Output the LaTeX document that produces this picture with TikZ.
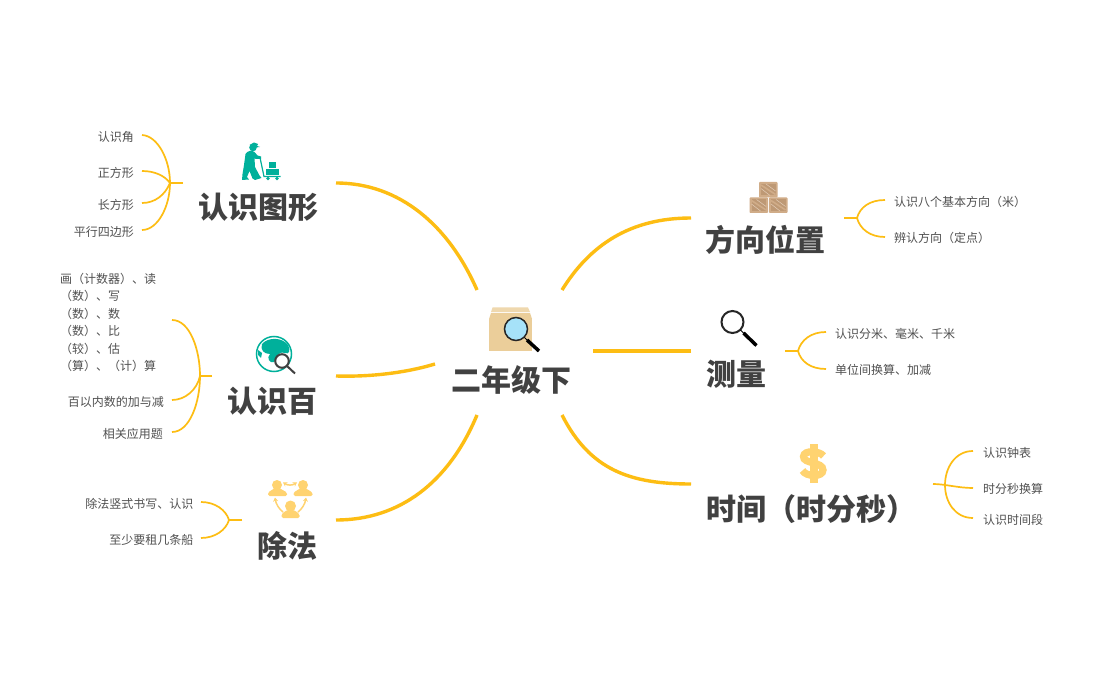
\documentclass[tikz,border=0pt]{standalone}
\usepackage{fontspec}
\setmainfont{Noto Sans CJK SC}
\usetikzlibrary{arrows.meta}
\definecolor{branchc}{HTML}{FDBD13}
\definecolor{titlec}{HTML}{414141}
\definecolor{leafc}{HTML}{505050}
\definecolor{teal}{HTML}{00B09B}
\definecolor{gold}{HTML}{FFD370}
\definecolor{boxc}{HTML}{EBCE9A}
\definecolor{cratec}{HTML}{D0AC88}
\definecolor{crated}{HTML}{B08A66}
\newcommand{\cratebox}[2]{%
  \fill[cratec,rounded corners=0.8pt] (#1,#2) rectangle ++(18.5,15.5);
  \fill[crated!55!cratec] (#1+2,#2+2) rectangle ++(14.5,11.5);
  \draw[cratec,line width=1.6pt] (#1+2,#2+3) -- (#1+16.5,#2+12.5);
  \draw[cratec!60!white,line width=.5pt] (#1+2,#2+6.5) -- (#1+11,#2+13.5) (#1+7,#2+2) -- (#1+16.5,#2+9);
}
\tikzset{
  x=1pt,y=-1pt,
  mainline/.style={draw=branchc,line width=3.4pt,line cap=butt},
  subline/.style={draw=branchc,line width=1.7pt},
  rootlabel/.style={inner sep=0,font=\fontsize{30}{30}\selectfont\bfseries,text=titlec},
  topiclabel/.style={inner sep=0,font=\fontsize{30}{30}\selectfont\bfseries,text=titlec},
  leafl/.style={inner sep=0,anchor=east,font=\fontsize{12}{12}\selectfont,text=leafc},
  leafr/.style={inner sep=0,anchor=west,font=\fontsize{12}{12}\selectfont,text=leafc},
}
\begin{document}
\begin{tikzpicture}
\useasboundingbox[fill=white] (0,0) rectangle (1100,700);

% ---------- labels
\node[rootlabel] (root) at (511.5,380.5) {二年级下};
\node[topiclabel] (shape) at (258,207.5) {认识图形};
\node[topiclabel] (hund) at (272.5,401.5) {认识百};
\node[topiclabel] (divi) at (287.5,545.5) {除法};
\node[topiclabel] (dir) at (765.5,240) {方向位置};
\node[topiclabel] (meas) at (736,374.5) {测量};
\node[topiclabel] (time) at (811,509.5) {时间（时分秒）};

\node[leafl] (a1) at (134,137) {认识角};
\node[leafl] (a2) at (134,173) {正方形};
\node[leafl] (a3) at (134,205) {长方形};
\node[leafl] (a4) at (134,232) {平行四边形};

\node[inner sep=0,anchor=north west,align=left,font=\fontsize{12}{17.4}\selectfont,text=leafc] (b1) at (60,273)
  {画（计数器）、读\\（数）、写\\（数）、数\\（数）、比\\（较）、估\\（算）、（计）算};
\node[leafl] (b2) at (164,402) {百以内数的加与减};
\node[leafl] (b3) at (163,434) {相关应用题};

\node[leafl] (c1) at (193.5,504) {除法竖式书写、认识};
\node[leafl] (c2) at (193.5,540) {至少要租几条船};

\node[leafr] (d1) at (894,202) {认识八个基本方向（米）};
\node[leafr] (d2) at (894,238) {辨认方向（定点）};

\node[leafr] (e1) at (835,334) {认识分米、毫米、千米};
\node[leafr] (e2) at (835,370) {单位间换算、加减};

\node[leafr] (f1) at (983,453) {认识钟表};
\node[leafr] (f2) at (983,489) {时分秒换算};
\node[leafr] (f3) at (983,520) {认识时间段};

% ---------- connector end points
\coordinate (rTL) at (477,290);
\coordinate (rML) at (435,364);
\coordinate (rBL) at (477,415);
\coordinate (rTR) at (562,290);
\coordinate (rMR) at (593,351);
\coordinate (rBR) at (562,415);
\coordinate (tA) at (336,183);
\coordinate (tB) at (336,376);
\coordinate (tC) at (336,520);
\coordinate (tD) at (691,218);
\coordinate (tE) at (691,351);
\coordinate (tF) at (691,484);

\coordinate (ja) at (170,183); \coordinate (sa) at (183,183);
\coordinate (la1) at (142,135); \coordinate (la2) at (142,171);
\coordinate (la3) at (142,203); \coordinate (la4) at (142,230);
\coordinate (jb) at (200,376); \coordinate (sb) at (212,376);
\coordinate (lb1) at (172,320); \coordinate (lb2) at (172,400); \coordinate (lb3) at (172,432);
\coordinate (jc) at (229,520); \coordinate (sc) at (242,520);
\coordinate (lc1) at (201,502); \coordinate (lc2) at (201,538);
\coordinate (jd) at (857,218); \coordinate (sd) at (844,218);
\coordinate (ld1) at (885,200); \coordinate (ld2) at (885,237);
\coordinate (je) at (798,351); \coordinate (se) at (785,351);
\coordinate (le1) at (826,332); \coordinate (le2) at (826,369);
\coordinate (jf) at (945,485); \coordinate (sf) at (933,484);
\coordinate (lf1) at (973,451); \coordinate (lf2) at (973,488); \coordinate (lf3) at (973,518);

% ---------- main branches
\draw[mainline] (tA) .. controls (400,183) and (449,226) .. (rTL);
\draw[mainline] (tB) .. controls (370,377) and (405,373) .. (rML);
\draw[mainline] (tC) .. controls (400,520) and (449,482) .. (rBL);
\draw[mainline] (tD) .. controls (630,218) and (590,245) .. (rTR);
\draw[mainline] (tE) -- (rMR);
\draw[mainline] (tF) .. controls (630,484) and (590,470) .. (rBR);

% ---------- sub branches
\draw[subline] (sa) -- (ja);
\draw[subline] (la1) .. controls (158,136) and (170,160) .. (ja);
\draw[subline] (la4) .. controls (158,230) and (170,206) .. (ja);
\draw[subline] (la2) .. controls (155,171) and (165,176) .. (ja);
\draw[subline] (la3) .. controls (155,203) and (165,195) .. (ja);

\draw[subline] (sb) -- (jb);
\draw[subline] (lb1) .. controls (190,320) and (200,350) .. (jb);
\draw[subline] (lb2) .. controls (185,400) and (197,390) .. (jb);
\draw[subline] (lb3) .. controls (190,432) and (200,402) .. (jb);

\draw[subline] (sc) -- (jc);
\draw[subline] (lc1) .. controls (215,502) and (226,510) .. (jc);
\draw[subline] (lc2) .. controls (215,538) and (226,530) .. (jc);

\draw[subline] (sd) -- (jd);
\draw[subline] (ld1) .. controls (870,200) and (860,207) .. (jd);
\draw[subline] (ld2) .. controls (870,237) and (860,229) .. (jd);

\draw[subline] (se) -- (je);
\draw[subline] (le1) .. controls (811,332) and (801,340) .. (je);
\draw[subline] (le2) .. controls (811,369) and (801,362) .. (je);

\draw[subline] (lf1) .. controls (955,451) and (945,468) .. (jf);
\draw[subline] (lf3) .. controls (955,518) and (945,502) .. (jf);
\draw[subline] (sf) .. controls (945,484) and (958,488) .. (lf2);

% ---------- icon: box with magnifier
\fill[boxc] (489,319) rectangle (532,351.5);
\fill[boxc] (491,313) -- (530,313) -- (532,319) -- (489,319) -- cycle;
\fill[boxc!80!white] (492.5,307.5) -- (528,307.5) -- (530,312) -- (491,312) -- cycle;
\draw[line width=1.5pt,draw=black!85,fill=cyan!35!white] (516,329) circle (11.5);
\draw[line width=1pt,black] (524.5,337.5) -- (528,341);
\draw[line width=3.5pt,black] (527,340) -- (539,351);

% ---------- icon: magnifier
\draw[line width=2pt,black!85] (732.5,322) circle (11);
\draw[line width=1pt,black] (740.5,330) -- (744,333.5);
\draw[line width=3.5pt,black] (743.5,333) -- (756.5,345.5);

% ---------- icon: crates
\cratebox{759}{182}
\cratebox{749.5}{197.5}
\cratebox{769}{197.5}

% ---------- icon: dollar, drawn as a heavy shape
\fill[gold] (809.5,444) rectangle (817.5,483);
\draw[gold,line width=7.2pt] (823.5,456) .. controls (820,451) and (804,449.5) .. (803.5,456.5)
  .. controls (803,464) and (823,461.5) .. (823,470)
  .. controls (823,477.5) and (806,477) .. (802.5,470.5);

% ---------- icon: worker with cart
\fill[teal] (253,147.5) circle (3.8);
\fill[teal] (249.5,145) -- (254,142.5) -- (258,144) -- (257,146) -- (260,147) -- (256,147.5) -- cycle;
\fill[teal] (245.5,154) .. controls (247.5,150.5) and (252,150) .. (254.5,152)
  -- (257.5,155.5) -- (261,156.5) -- (261,159) -- (255.5,159) -- (254.5,158) -- (255,167)
  -- (259.5,175.5) -- (261.5,178) -- (255,180) -- (252.5,178.5) -- (249.5,171)
  -- (247,177) -- (249,179.5) -- (242,180) -- (242.5,174)
  -- (244,165) -- cycle;
\draw[teal,line width=1.2pt] (260,157.5) -- (264,176.5) -- (280.5,176.5);
\fill[teal] (268.5,162) rectangle (276,168.2);
\fill[teal] (266,169) rectangle (279,175.5);
\fill[teal] (268,178.5) circle (1.9) (277,178.5) circle (1.9);

% ---------- icon: globe with magnifier
\draw[teal,line width=1.5pt,fill=white] (274,354) circle (17.5);
\fill[teal] (262,344) .. controls (268,337) and (282,337) .. (288,345)
  .. controls (291,350) and (289,355) .. (285,353)
  .. controls (278,351) and (276,357) .. (274,362)
  .. controls (270,364) and (266,358) .. (270,354)
  .. controls (264,354) and (260,350) .. (262,344) -- cycle;
\fill[teal] (258,350) -- (262,353) -- (261,358) -- (258,355) -- cycle;
\draw[draw=black!75,line width=2pt] (282,361) circle (6.8);
\draw[black!75,line width=2pt] (287,366) -- (295,373.5);

% ---------- icon: people in a circle
\fill[gold] (277,485) circle (5);
\fill[gold] (303,485) circle (5);
\fill[gold] (290.5,506) circle (5.5);
\fill[gold,rounded corners=1.5pt] (268,496) -- (268,492.5) -- (274,488.5) -- (280,488.5) -- (287,492.5) -- (287,496) -- cycle;
\fill[gold,rounded corners=1.5pt] (293.5,496) -- (293.5,492.5) -- (300,488.5) -- (306,488.5) -- (312.5,492.5) -- (312.5,496) -- cycle;
\fill[gold,rounded corners=1.5pt] (281.5,518) -- (281.5,514) -- (287,510) -- (294,510) -- (299.5,514) -- (299.5,518) -- cycle;
\draw[gold,line width=1.5pt,{Stealth[length=4pt,width=5pt]}-{Stealth[length=4pt,width=5pt]}] (283,482.5) .. controls (288,485.5) and (292,485.5) .. (297,482.5);
\draw[gold,line width=1.5pt,-{Stealth[length=4pt,width=5pt]}] (283,512) .. controls (279,509) and (276,504) .. (275,497.5);
\draw[gold,line width=1.5pt,-{Stealth[length=4pt,width=5pt]}] (298,512) .. controls (302,509) and (305,504) .. (306,497.5);
\end{tikzpicture}
\end{document}
